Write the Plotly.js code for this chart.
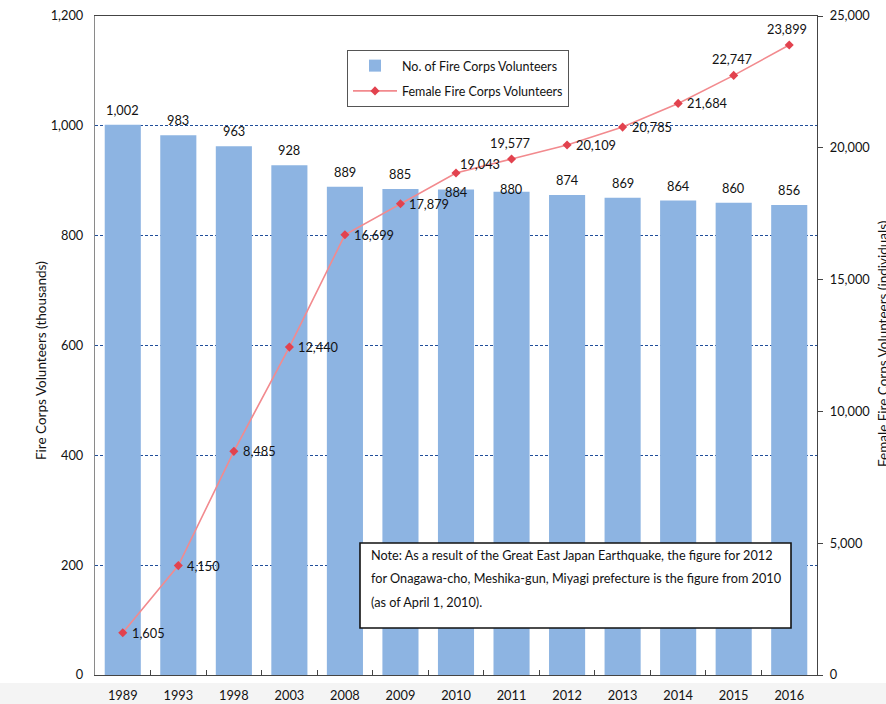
<!DOCTYPE html>
<html>
<head>
<meta charset="utf-8">
<script src="https://cdn.plot.ly/plotly-3.0.1.min.js"></script>
<style>
  html, body { margin: 0; padding: 0; background: #ffffff; }
  #chart { width: 886px; height: 704px; }
</style>
</head>
<body>
<div id="chart"></div>
<script>
// Fire corps volunteers by year
const years = ['1989', '1993', '1998', '2003', '2008', '2009', '2010', '2011', '2012', '2013', '2014', '2015', '2016'];
// total volunteers (thousands)
const volunteers = [1002, 983, 963, 928, 889, 885, 884, 880, 874, 869, 864, 860, 856];
// female volunteers (individuals)
const femaleVolunteers = [1605, 4150, 8485, 12440, 16699, 17879, 19043, 19577, 20109, 20785, 21684, 22747, 23899];

const seriesNames = ['No. of Fire Corps Volunteers', 'Female Fire Corps Volunteers'];
const leftTitle = 'Fire Corps Volunteers (thousands)';
const rightTitle = 'Female Fire Corps Volunteers (individuals)';
const noteLines = [
  'Note: As a result of the Great East Japan Earthquake, the figure for 2012',
  'for Onagawa-cho, Meshika-gun, Miyagi prefecture is the figure from 2010',
  '(as of April 1, 2010).'
];

const W = 886, H = 704;
const M = { l: 95, r: 69, t: 16, b: 29 };
const PW = W - M.l - M.r, PH = H - M.t - M.b;
const px = x => (x - M.l) / PW;          // pixel x -> paper x
const py = y => (H - M.b - y) / PH;      // pixel y -> paper y

const FONT = 'Lato, "Open Sans", sans-serif';
const TXT = '#121212';

const fmt = v => v.toLocaleString('en-US');

// vertical nudges for bar labels that sit under the line labels
const barLabelShift = { '2010': -17, '2011': -12 };
// where each line label sits relative to its marker
const lineLabelPlace = { '2010': 'upright', '2011': 'above', '2015': 'above', '2016': 'above' };

const annotations = [];

// on a category axis annotations are placed by category index
years.forEach((yr, i) => {
  annotations.push({
    x: i, y: volunteers[i], xref: 'x', yref: 'y',
    text: fmt(volunteers[i]), showarrow: false,
    xanchor: 'center', yanchor: 'middle',
    yshift: 15 + (barLabelShift[yr] || 0),
    font: { family: FONT, size: 12.8, color: TXT }
  });
  const place = lineLabelPlace[yr] || 'right';
  const a = {
    x: i, y: femaleVolunteers[i], xref: 'x', yref: 'y2',
    text: fmt(femaleVolunteers[i]), showarrow: false,
    font: { family: FONT, size: 12.8, color: TXT }
  };
  if (place === 'right') { a.xanchor = 'left'; a.yanchor = 'middle'; a.xshift = 7; }
  else if (place === 'upright') { a.xanchor = 'left'; a.yanchor = 'middle'; a.xshift = 2; a.yshift = 9; }
  else { a.xanchor = 'center'; a.yanchor = 'middle'; a.xshift = -2; a.yshift = 16; }
  annotations.push(a);
});

// axis titles
annotations.push({
  xref: 'paper', yref: 'paper', x: px(41), y: py(361),
  text: leftTitle, textangle: -90, showarrow: false,
  xanchor: 'center', yanchor: 'middle',
  font: { family: FONT, size: 13.5, color: TXT }
});
annotations.push({
  xref: 'paper', yref: 'paper', x: px(883), y: py(344),
  text: rightTitle, textangle: -90, showarrow: false,
  xanchor: 'center', yanchor: 'middle',
  font: { family: FONT, size: 13.5, color: TXT }
});

// note text
const noteY = [555, 578, 602];
noteLines.forEach((t, k) => {
  annotations.push({
    xref: 'paper', yref: 'paper', x: px(369), y: py(noteY[k]),
    text: t, showarrow: false, xanchor: 'left', yanchor: 'middle',
    font: { family: FONT, size: 12.7, color: TXT }
  });
});

const traces = [
  {
    type: 'bar', x: years, y: volunteers, name: seriesNames[0],
    marker: { color: '#8DB4E2' }, yaxis: 'y', hoverinfo: 'x+y',
    legendgroup: 'a'
  },
  {
    type: 'scatter', mode: 'lines+markers', x: years, y: femaleVolunteers,
    name: seriesNames[1], yaxis: 'y2', legendgroup: 'b',
    line: { color: '#F28A8E', width: 1.6 },
    marker: { symbol: 'diamond', size: 7, color: '#E2424E' }
  }
];

const layout = {
  width: W, height: H,
  margin: M,
  paper_bgcolor: '#ffffff', plot_bgcolor: '#ffffff',
  font: { family: FONT, size: 12, color: TXT },
  bargap: 0.35,
  showlegend: true,
  legend: {
    x: px(347), y: py(50), xanchor: 'left', yanchor: 'top',
    bgcolor: '#ffffff', bordercolor: '#555555', borderwidth: 1,
    font: { family: FONT, size: 12.5, color: TXT },
    traceorder: 'grouped', tracegroupgap: 6, itemwidth: 44
  },
  xaxis: {
    type: 'category', range: [-0.5, years.length - 0.5],
    showline: true, linecolor: '#444444', linewidth: 1.2,
    mirror: true, ticks: 'inside', ticklen: 5, tickcolor: '#444444',
    tickson: 'boundaries', showgrid: false,
    ticklabelstandoff: 8,
    tickfont: { family: FONT, size: 12.8, color: TXT }
  },
  yaxis: {
    range: [0, 1200], dtick: 200, tickformat: ',d',
    showline: true, linecolor: '#8a8a8a', linewidth: 1.2,
    ticks: '', showgrid: true, gridcolor: '#1F4E9A', gridwidth: 1,
    griddash: '3px,2px', zeroline: false,
    ticklabelstandoff: 8,
    tickfont: { family: FONT, size: 12.8, color: TXT }
  },
  yaxis2: {
    range: [0, 25000], dtick: 5000, tickformat: ',d',
    overlaying: 'y', side: 'right',
    showline: true, linecolor: '#444444', linewidth: 1.2,
    ticks: 'outside', ticklen: 5, tickcolor: '#444444',
    showgrid: false, zeroline: false,
    ticklabelstandoff: 4,
    tickfont: { family: FONT, size: 12.8, color: TXT }
  },
  shapes: [
    // faint grey band along the bottom edge
    { type: 'rect', xref: 'paper', yref: 'paper', x0: px(0), x1: px(W), y0: py(H), y1: py(683),
      fillcolor: '#f4f4f4', line: { width: 0 }, layer: 'below' },
    // note box
    { type: 'rect', xref: 'paper', yref: 'paper', x0: px(360), x1: px(791), y0: py(628), y1: py(543),
      fillcolor: '#ffffff', line: { color: '#111111', width: 1.6 }, layer: 'above' }
  ],
  annotations: annotations
};

Plotly.newPlot('chart', traces, layout, { displayModeBar: false, staticPlot: true });
</script>
</body>
</html>
